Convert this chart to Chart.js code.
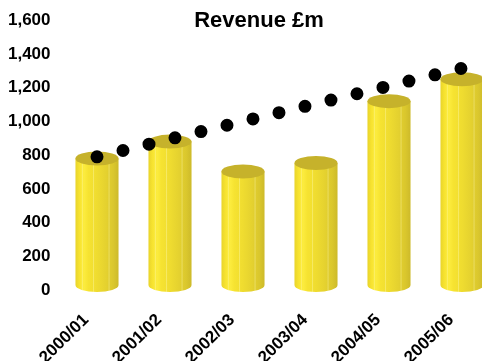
<!DOCTYPE html>
<html>
<head>
<meta charset="utf-8">
<script src="https://cdn.jsdelivr.net/npm/chart.js@4"></script>
<style>
  html, body { margin:0; padding:0; background:#fff; overflow:hidden; }
  #wrap { position:relative; width:482px; height:361px; overflow:hidden; }
  #title {
    position:absolute; top:9px; left:159px; width:200px;
    text-align:center; font:bold 22px "Liberation Sans", Arial, sans-serif;
    line-height:22px; color:#000; z-index:2;
  }
  canvas { position:absolute; left:0; top:0; }
</style>
</head>
<body>
<div id="wrap">
  <div id="title">Revenue £m</div>
  <canvas id="chart" width="500" height="361"></canvas>
</div>
<script>
// data
const years = ["2000/01", "2001/02", "2002/03", "2003/04", "2004/05", "2005/06"];
const revenue = [780, 880, 703, 753, 1120, 1250];
const trend = [790, 895, 1000, 1105, 1210, 1315];
const yTicks = [0, 200, 400, 600, 800, 1000, 1200, 1400, 1600];

const FONT = "'Liberation Sans', Arial, sans-serif";

// cylinder look for the bars
const cylinders = {
  id: "cylinders",
  afterDatasetDraw(chart, args){
    if (args.index !== 0) return;
    const ctx = chart.ctx;
    const ry = 7;
    args.meta.data.forEach(bar => {
      const p = bar.getProps(["x","y","base","width"], true);
      const rx = p.width/2, l = p.x-rx, r = p.x+rx;
      const top = p.y, bot = p.base-5;
      const g = ctx.createLinearGradient(l, 0, r, 0);
      g.addColorStop(0, "#E8D42B");
      g.addColorStop(0.1, "#F8E430");
      g.addColorStop(0.2, "#FCEC3E");
      g.addColorStop(0.3, "#F6E331");
      g.addColorStop(0.5, "#EFDC30");
      g.addColorStop(0.72, "#E4D12F");
      g.addColorStop(0.88, "#DAC72D");
      g.addColorStop(1, "#CDBA2A");
      ctx.save();
      ctx.beginPath();
      ctx.moveTo(l, top);
      ctx.lineTo(l, bot);
      ctx.ellipse(p.x, bot, rx, ry, 0, Math.PI, 0, true);
      ctx.lineTo(r, top);
      ctx.closePath();
      ctx.fillStyle = g;
      ctx.fill();
      // faint light streaks
      ctx.strokeStyle = "rgba(255,255,200,0.35)";
      ctx.lineWidth = 1;
      [0.16, 0.42, 0.78].forEach(f => {
        ctx.beginPath();
        ctx.moveTo(l+f*p.width, top);
        ctx.lineTo(l+f*p.width, bot+ry*Math.sqrt(1-Math.pow(2*f-1,2)));
        ctx.stroke();
      });
      ctx.beginPath();
      ctx.ellipse(p.x, top, rx, ry, 0, 0, Math.PI*2);
      ctx.fillStyle = "#C6B22B";
      ctx.fill();
      ctx.restore();
    });
  }
};

new Chart(document.getElementById("chart").getContext("2d"), {
  data:{
    labels: years,
    datasets:[
      { type:"bar", label:"Revenue", data:revenue, backgroundColor:"rgba(0,0,0,0)",
        barPercentage:0.59, categoryPercentage:1, order:1 },
      { type:"line", label:"Trend", data:trend, borderColor:"#000", borderWidth:13,
        borderDash:[0, 26.75], borderCapStyle:"round", pointRadius:0, fill:false, order:0 }
    ]
  },
  options:{
    responsive:false,
    animation:false,
    layout:{ padding:{ top:17, right:1.5, left:0, bottom:0 } },
    plugins:{ legend:{ display:false }, tooltip:{ enabled:false } },
    scales:{
      x:{
        offset:true,
        grid:{ display:false, drawTicks:false },
        border:{ display:false },
        ticks:{ color:"#000", font:{ family:FONT, size:17, weight:"bold" },
          minRotation:45, maxRotation:45, padding:20, labelOffset:-11 },
        afterFit: s => { s.height = 71; }
      },
      y:{
        min:0, max:1600,
        grid:{ display:false, drawTicks:false },
        border:{ display:false },
        afterBuildTicks: s => { s.ticks = yTicks.map(v => ({ value:v })); },
        ticks:{ color:"#000", font:{ family:FONT, size:17, weight:"bold" }, padding:10,
          callback: v => v.toLocaleString("en-US") },
        afterFit: s => { s.width = 60.5; }
      }
    }
  },
  plugins:[cylinders]
});
</script>
</body>
</html>
